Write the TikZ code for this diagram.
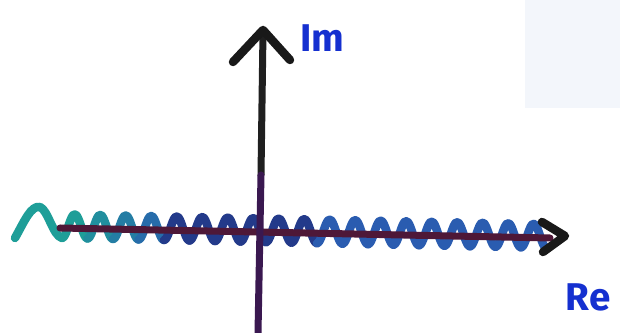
\documentclass[tikz,border=0pt]{standalone}
\usepackage{fontspec}
\setsansfont{Fira Sans}
\definecolor{tealw}{HTML}{1E9E98}
\definecolor{bluew}{HTML}{2A5CB0}
\definecolor{navyw}{HTML}{233A8A}
\definecolor{maroonax}{HTML}{4E1838}
\definecolor{purpax}{HTML}{3A1850}
\definecolor{inkblue}{HTML}{1530D0}
\definecolor{paper}{HTML}{F3F6FB}
\begin{document}
\begin{tikzpicture}[x=0.02cm,y=-0.02cm,
  wave/.style={line width=0.17cm, line cap=round, line join=round},
  axisline/.style={line width=0.14cm, line cap=round},
  chevron/.style={line width=0.17cm, line cap=round, line join=round, draw=black!90},
  lab/.style={text=inkblue, font=\sffamily\bfseries\fontsize{22}{22}\selectfont, inner sep=0pt}]
\useasboundingbox (0,0) rectangle (620,333);
\fill[white] (0,0) rectangle (620,333);
\fill[paper] (525,0) rectangle (620,108);
% wave (branch cut)
\draw[wave, tealw] (15,238) .. controls (24,222) and (31,205) .. (40,207) .. controls (48,210) and (53,236) .. (62,238);
\foreach \s in {0,...,18} {
  \pgfmathsetmacro{\pa}{min(100,\s*25)}
  \pgfmathsetmacro{\lo}{62+\s*25.5}
  \pgfmathsetmacro{\hi}{62+(\s+1)*25.5}
  \ifnum\s<4
    \colorlet{wc}{bluew!\pa!tealw}
  \else\ifnum\s<10
    \colorlet{wc}{navyw}
  \else
    \colorlet{wc}{bluew}
  \fi\fi
  \draw[wave, wc] plot[domain=\lo:\hi, samples=14, smooth] (\x, {228+(\x-60)*0.0205-2+12*cos(14.12*(\x-62))});
}
% horizontal axis
\coordinate (hl) at (60,228);
\coordinate (hr) at (550,238);
\draw[axisline, maroonax] (hl) -- (hr);
% vertical axis
\coordinate (vt) at (263,32);
\coordinate (vm) at (261,175);
\coordinate (vb) at (258,333);
\draw[axisline, black!88] (vt) -- (vm);
\draw[axisline, purpax] (vm) -- (vb);
% arrow heads
\coordinate (vtip) at (263,30);
\draw[chevron] (233,62) -- (vtip) -- (290,60);
\coordinate (htip) at (565,236);
\draw[chevron] (542,222) -- (htip) -- (543,252);
% labels
\node[lab] (im) at (322,38) {Im};
\node[lab] (re) at (588,297) {Re};
\end{tikzpicture}
\end{document}
